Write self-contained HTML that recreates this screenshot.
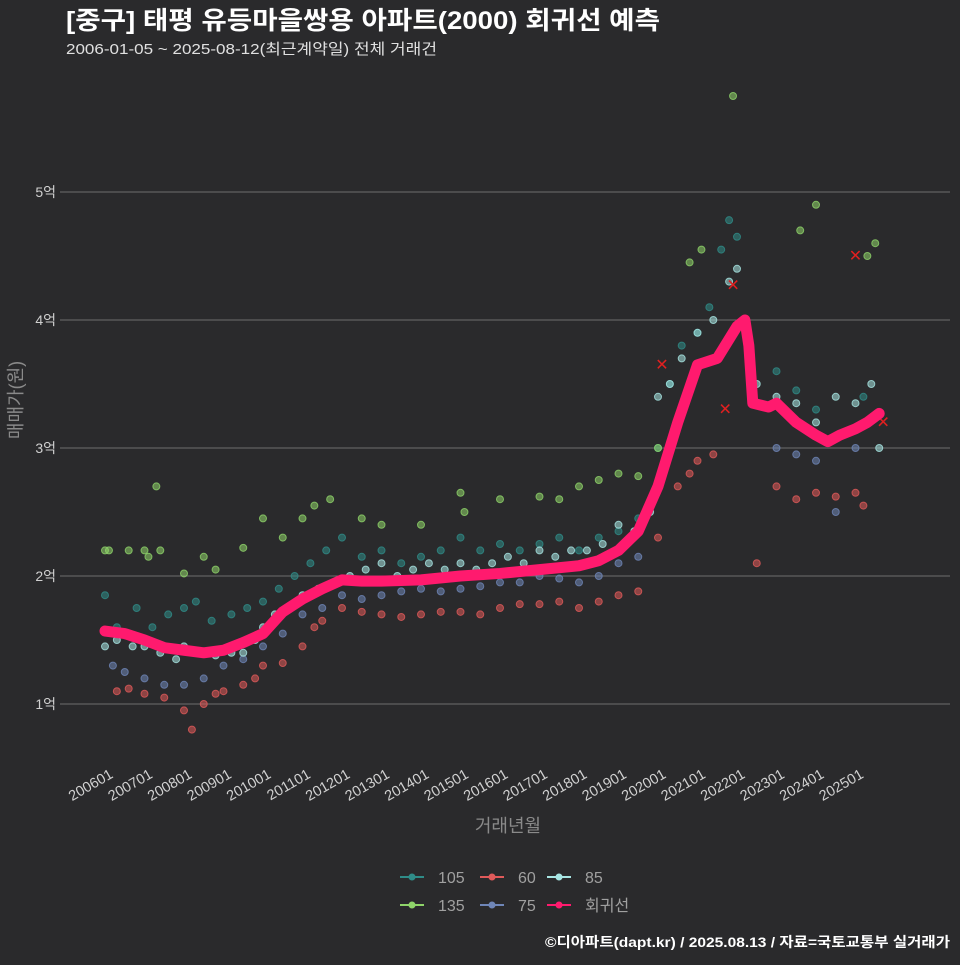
<!DOCTYPE html>
<html><head><meta charset="utf-8">
<style>
html,body{margin:0;padding:0;background:#2a2a2c;}
svg text{font-family:"Liberation Sans","Noto Sans CJK KR",sans-serif;}
</style></head>
<body>
<svg id="chart" width="960" height="960" xmlns="http://www.w3.org/2000/svg">
<rect width="960" height="960" fill="#2a2a2c"/>
<text x="66" y="29" fill="#ffffff" font-size="25" font-weight="bold" textLength="594" lengthAdjust="spacingAndGlyphs">[중구] 태평 유등마을쌍용 아파트(2000) 회귀선 예측</text>
<text x="66" y="54" fill="#e0e0e0" font-size="15" textLength="371" lengthAdjust="spacingAndGlyphs">2006-01-05 ~ 2025-08-12(최근계약일) 전체 거래건</text>
<g id="grid"></g>
<g id="points"></g>
<g id="line"></g>
<g id="xaxis"></g>
<text transform="translate(22,400) rotate(-90)" text-anchor="middle" fill="#8a8a8a" font-size="18">매매가(원)</text>
<text x="508" y="832" text-anchor="middle" fill="#8a8a8a" font-size="18">거래년월</text>
<g id="legend"></g>
<text x="950" y="947" text-anchor="end" fill="#ffffff" font-size="14" font-weight="bold" textLength="405" lengthAdjust="spacingAndGlyphs">©디아파트(dapt.kr) / 2025.08.13 / 자료=국토교통부 실거래가</text>
</svg>
<script>
const yTicks=[1,2,3,4,5];
const xTickLabels=['200601','200701','200801','200901','201001','201101','201201','201301','201401','201501','201601','201701','201801','201901','202001','202101','202201','202301','202401','202501'];
const lineYears=[2006.0,2006.5,2007.0,2007.5,2008.0,2008.5,2009.0,2009.5,2010.0,2010.5,2011.0,2011.5,2012.0,2012.5,2013.0,2014.0,2015.0,2016.0,2017.0,2018.0,2018.5,2019.0,2019.5,2020.0,2020.5,2021.0,2021.5,2022.0,2022.2,2022.3,2022.4,2022.8,2023.0,2023.5,2024.0,2024.3,2024.6,2025.0,2025.3,2025.6];
const lineValues=[1.57,1.55,1.5,1.44,1.42,1.40,1.42,1.48,1.55,1.72,1.82,1.90,1.97,1.96,1.96,1.97,2.0,2.02,2.05,2.08,2.12,2.2,2.35,2.7,3.2,3.65,3.7,3.95,4.0,3.8,3.35,3.32,3.35,3.2,3.1,3.05,3.1,3.15,3.2,3.27];
const s105=[[2006.0,1.85],[2006.3,1.6],[2006.8,1.75],[2007.2,1.6],[2007.6,1.7],[2008.0,1.75],[2008.3,1.8],[2008.7,1.65],[2009.2,1.7],[2009.6,1.75],[2010.0,1.8],[2010.4,1.9],[2010.8,2.0],[2011.2,2.1],[2011.6,2.2],[2012.0,2.3],[2012.5,2.15],[2013.0,2.2],[2013.5,2.1],[2014.0,2.15],[2014.5,2.2],[2015.0,2.3],[2015.5,2.2],[2016.0,2.25],[2016.5,2.2],[2017.0,2.25],[2017.5,2.3],[2018.0,2.2],[2018.5,2.3],[2019.0,2.35],[2019.5,2.45],[2020.0,3.0],[2020.3,3.5],[2020.6,3.8],[2021.0,3.9],[2021.3,4.1],[2021.6,4.55],[2021.8,4.78],[2022.0,4.65],[2023.0,3.6],[2023.5,3.45],[2024.0,3.3],[2025.2,3.4]];
const s135=[[2006.0,2.2],[2006.1,2.2],[2006.6,2.2],[2007.0,2.2],[2007.1,2.15],[2007.3,2.7],[2007.4,2.2],[2008.0,2.02],[2008.5,2.15],[2008.8,2.05],[2009.5,2.22],[2010.0,2.45],[2010.5,2.3],[2011.0,2.45],[2011.3,2.55],[2011.7,2.6],[2012.5,2.45],[2013.0,2.4],[2014.0,2.4],[2015.0,2.65],[2015.1,2.5],[2016.0,2.6],[2017.0,2.62],[2017.5,2.6],[2018.0,2.7],[2018.5,2.75],[2019.0,2.8],[2019.5,2.78],[2020.0,3.0],[2020.8,4.45],[2021.1,4.55],[2021.9,5.75],[2023.6,4.7],[2024.0,4.9],[2025.3,4.5],[2025.5,4.6]];
const s60=[[2006.3,1.1],[2006.6,1.12],[2007.0,1.08],[2007.5,1.05],[2008.0,0.95],[2008.2,0.8],[2008.5,1.0],[2008.8,1.08],[2009.0,1.1],[2009.5,1.15],[2009.8,1.2],[2010.0,1.3],[2010.5,1.32],[2011.0,1.45],[2011.3,1.6],[2011.5,1.65],[2012.0,1.75],[2012.5,1.72],[2013.0,1.7],[2013.5,1.68],[2014.0,1.7],[2014.5,1.72],[2015.0,1.72],[2015.5,1.7],[2016.0,1.75],[2016.5,1.78],[2017.0,1.78],[2017.5,1.8],[2018.0,1.75],[2018.5,1.8],[2019.0,1.85],[2019.5,1.88],[2020.0,2.3],[2020.5,2.7],[2020.8,2.8],[2021.0,2.9],[2021.4,2.95],[2022.5,2.1],[2023.0,2.7],[2023.5,2.6],[2024.0,2.65],[2024.5,2.62],[2025.0,2.65],[2025.2,2.55]];
const s75=[[2006.2,1.3],[2006.5,1.25],[2007.0,1.2],[2007.5,1.15],[2008.0,1.15],[2008.5,1.2],[2009.0,1.3],[2009.5,1.35],[2010.0,1.45],[2010.5,1.55],[2011.0,1.7],[2011.5,1.75],[2012.0,1.85],[2012.5,1.82],[2013.0,1.85],[2013.5,1.88],[2014.0,1.9],[2014.5,1.88],[2015.0,1.9],[2015.5,1.92],[2016.0,1.95],[2016.5,1.95],[2017.0,2.0],[2017.5,1.98],[2018.0,1.95],[2018.5,2.0],[2019.0,2.1],[2019.5,2.15],[2023.0,3.0],[2023.5,2.95],[2024.0,2.9],[2024.5,2.5],[2025.0,3.0]];
const s85=[[2006.0,1.45],[2006.3,1.5],[2006.7,1.45],[2007.0,1.45],[2007.4,1.4],[2007.8,1.35],[2008.0,1.45],[2008.4,1.4],[2008.8,1.38],[2009.2,1.4],[2009.5,1.4],[2009.8,1.5],[2010.0,1.6],[2010.3,1.7],[2010.6,1.75],[2011.0,1.85],[2011.4,1.9],[2011.8,1.95],[2012.2,2.0],[2012.6,2.05],[2013.0,2.1],[2013.4,2.0],[2013.8,2.05],[2014.2,2.1],[2014.6,2.05],[2015.0,2.1],[2015.4,2.05],[2015.8,2.1],[2016.2,2.15],[2016.6,2.1],[2017.0,2.2],[2017.4,2.15],[2017.8,2.2],[2018.2,2.2],[2018.6,2.25],[2019.0,2.4],[2019.4,2.35],[2019.8,2.5],[2020.0,3.4],[2020.3,3.5],[2020.6,3.7],[2021.0,3.9],[2021.4,4.0],[2021.8,4.3],[2022.0,4.4],[2022.5,3.5],[2023.0,3.4],[2023.5,3.35],[2024.0,3.2],[2024.5,3.4],[2025.0,3.35],[2025.4,3.5],[2025.6,3.0]];
const crossPts=[[2020.1,3.65],[2021.7,3.3],[2021.9,4.27],[2025.0,4.5],[2025.7,3.2]];
const X=y=>105+(y-2006)*39.5;
const Y=v=>704-(v-1)*128;
const NS='http://www.w3.org/2000/svg';
function mk(tag,attrs,parent){const e=document.createElementNS(NS,tag);for(const k in attrs)e.setAttribute(k,attrs[k]);parent.appendChild(e);return e;}
const grid=document.getElementById('grid');
yTicks.forEach(v=>{
  const l=mk('line',{x1:60,x2:950,y1:Y(v),y2:Y(v),stroke:'#6e6e6e','stroke-width':1},grid);
  
  
  const t=mk('text',{x:56,y:Y(v)+5,'text-anchor':'end',fill:'#d0d0d0','font-size':14},grid);
  t.textContent=v+'억';
  
  
});
const xa=document.getElementById('xaxis');
xTickLabels.forEach((lab,i)=>{
  const x=X(2006+i);
  const t=mk('text',{transform:`translate(${x+9},${777}) rotate(-30)`,'text-anchor':'end',fill:'#d0d0d0','font-size':14.5},xa);
  t.textContent=lab;
  
  
});
const pts=document.getElementById('points');
const series=[[s60,'#e05a5a','series-60'],[s75,'#6f86b8','series-75'],[s105,'#2f8c88','series-105'],[s85,'#a8e6e4','series-85'],[s135,'#8fd46a','series-135']];
series.forEach(([d,c,n])=>{
  d.forEach(p=>{
    const e=mk('circle',{cx:X(p[0]),cy:Y(p[1]),r:3.5,fill:c,'fill-opacity':0.55,stroke:c,'stroke-opacity':0.8},pts);
    
    
  });
});
crossPts.forEach(p=>{
  const e=mk('text',{x:X(p[0]),y:Y(p[1])+5,'text-anchor':'middle',fill:'#e02020','font-size':16},pts);
  e.textContent='✕';
  
  
});
const lg=document.getElementById('line');
const path=mk('polyline',{points:lineYears.map((y,i)=>X(y)+','+Y(lineValues[i])).join(' '),fill:'none',stroke:'#ff1a6e','stroke-width':11,'stroke-linejoin':'round','stroke-linecap':'round'},lg);


const leg=document.getElementById('legend');
const items=[['105','#2f8c88',400,877],['60','#e05a5a',480,877],['85','#a8e6e4',547,877],['135','#8fd46a',400,905],['75','#6f86b8',480,905],['회귀선','#ff1a6e',547,905]];
items.forEach(([lab,c,x,y])=>{
  const g=mk('g',{},leg);
  
  
  mk('line',{x1:x,x2:x+24,y1:y,y2:y,stroke:c,'stroke-width':2},g);
  mk('circle',{cx:x+12,cy:y,r:3.5,fill:c},g);
  const t=mk('text',{x:x+38,y:y+6,fill:'#a0a0a0','font-size':16},g);
  t.textContent=lab;
});
</script>
</body></html>
